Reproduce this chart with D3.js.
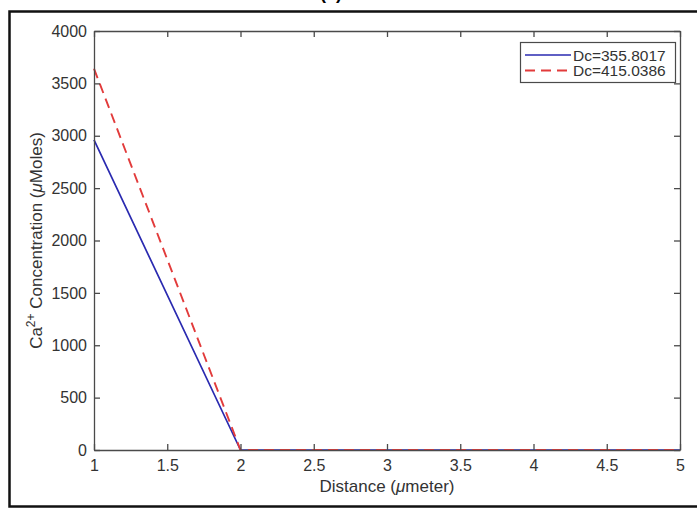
<!DOCTYPE html>
<html>
<head>
<meta charset="utf-8">
<script src="https://cdn.jsdelivr.net/npm/d3@7"></script>
<style>
  body { margin: 0; background: #fff; }
  svg text { font-family: "Liberation Sans", Arial, sans-serif; }
</style>
</head>
<body>
<svg id="chart" width="697" height="510"></svg>
<script>
// data
const distance = [1, 2, 2.5, 3, 3.5, 4, 4.5, 5];
const concLow = [2960, 0, 0, 0, 0, 0, 0, 0];    // Dc=355.8017
const concHigh = [3640, 0, 0, 0, 0, 0, 0, 0];   // Dc=415.0386
const seriesNames = ["Dc=355.8017", "Dc=415.0386"];
const xTicks = [1, 1.5, 2, 2.5, 3, 3.5, 4, 4.5, 5];
const yTicks = [0, 500, 1000, 1500, 2000, 2500, 3000, 3500, 4000];

const svg = d3.select("#chart");
const margin = { left: 94, top: 31, right: 17, bottom: 60 };
const width = 697 - margin.left - margin.right;   // 586
const height = 510 - margin.top - margin.bottom;  // 419

const axisColor = "#4a4a4a";
const textColor = "#333";
const blue = "#2a2ab0";
const red = "#e23b3b";

// outer figure frame (right side runs off the canvas)
svg.append("rect")
  .attr("x", 9.5).attr("y", 11.5)
  .attr("width", 710).attr("height", 495)
  .attr("fill", "none").attr("stroke", "#111").attr("stroke-width", 2.5);

// title, mostly cut off at the top
svg.append("text")
  .attr("x", 331).attr("y", -1)
  .attr("text-anchor", "middle")
  .attr("font-size", 18).attr("font-weight", "bold")
  .text("(a)");

const x = d3.scaleLinear().domain([1, 5]).range([0, width]);
const y = d3.scaleLinear().domain([0, 4000]).range([height, 0]);

const g = svg.append("g").attr("transform", `translate(${margin.left},${margin.top})`);

// lines
const line = d3.line().x((d, i) => x(distance[i])).y(d => y(d));

g.append("path").datum(concLow)
  .attr("d", line)
  .attr("fill", "none").attr("stroke", blue).attr("stroke-width", 1.7);

g.append("path").datum(concHigh)
  .attr("d", line)
  .attr("fill", "none").attr("stroke", red).attr("stroke-width", 1.9)
  .attr("stroke-dasharray", "10,6");

// axes: ticks point inward, matlab box style
function styleAxis(sel){
  sel.select(".domain").attr("stroke", axisColor).attr("stroke-width", 1.3);
  sel.selectAll(".tick line").attr("stroke", axisColor).attr("stroke-width", 1.3);
  sel.selectAll(".tick text").attr("fill", textColor)
     .attr("font-size", 16).attr("font-family", "Liberation Sans, Arial, sans-serif");
}

g.append("g")
  .attr("transform", `translate(0,${height})`)
  .call(d3.axisBottom(x).tickValues(xTicks).tickSize(-6).tickSizeOuter(0).tickPadding(9.5).tickFormat(d3.format("")))
  .call(styleAxis);

g.append("g")
  .call(d3.axisTop(x).tickValues(xTicks).tickSize(-6).tickSizeOuter(0).tickFormat(""))
  .call(styleAxis);

g.append("g")
  .call(d3.axisLeft(y).tickValues(yTicks).tickSize(-6).tickSizeOuter(0).tickPadding(7).tickFormat(d3.format("d")))
  .call(styleAxis);

g.append("g")
  .attr("transform", `translate(${width},0)`)
  .call(d3.axisRight(y).tickValues(yTicks).tickSize(-6).tickSizeOuter(0).tickFormat(""))
  .call(styleAxis);

// axis labels
svg.append("text")
  .attr("x", margin.left + width / 2).attr("y", 492)
  .attr("text-anchor", "middle")
  .attr("font-size", 17).attr("fill", textColor)
  .call(t => {
    t.append("tspan").text("Distance (");
    t.append("tspan").attr("font-style", "italic").text("\u03bc");
    t.append("tspan").text("meter)");
  });

svg.append("text")
  .attr("transform", `translate(42,${margin.top + height / 2}) rotate(-90)`)
  .attr("text-anchor", "middle")
  .attr("font-size", 17).attr("fill", textColor)
  .call(t => {
    t.append("tspan").text("Ca");
    t.append("tspan").attr("font-size", 12).attr("dy", -7).text("2+");
    t.append("tspan").attr("dy", 7).text(" Concentration (");
    t.append("tspan").attr("font-style", "italic").text("\u03bc");
    t.append("tspan").text("Moles)");
  });

// legend
const legend = svg.append("g").attr("transform", "translate(520,42)");
legend.append("rect")
  .attr("x", 0.5).attr("y", 0.5).attr("width", 155).attr("height", 40)
  .attr("fill", "#fff").attr("stroke", axisColor).attr("stroke-width", 1.2);

const legendColors = [blue, red];
const legendDash = [null, "10,6"];
seriesNames.forEach((name, i) => {
  const row = legend.append("g").attr("transform", `translate(0,${13 + i * 15.5})`);
  row.append("line")
    .attr("x1", 5).attr("x2", 51).attr("y1", 0).attr("y2", 0)
    .attr("stroke", legendColors[i]).attr("stroke-width", i ? 1.9 : 1.7)
    .attr("stroke-dasharray", legendDash[i]);
  row.append("text")
    .attr("x", 53).attr("y", 5.5)
    .attr("font-size", 15.5).attr("fill", textColor)
    .text(name);
});
</script>
</body>
</html>
